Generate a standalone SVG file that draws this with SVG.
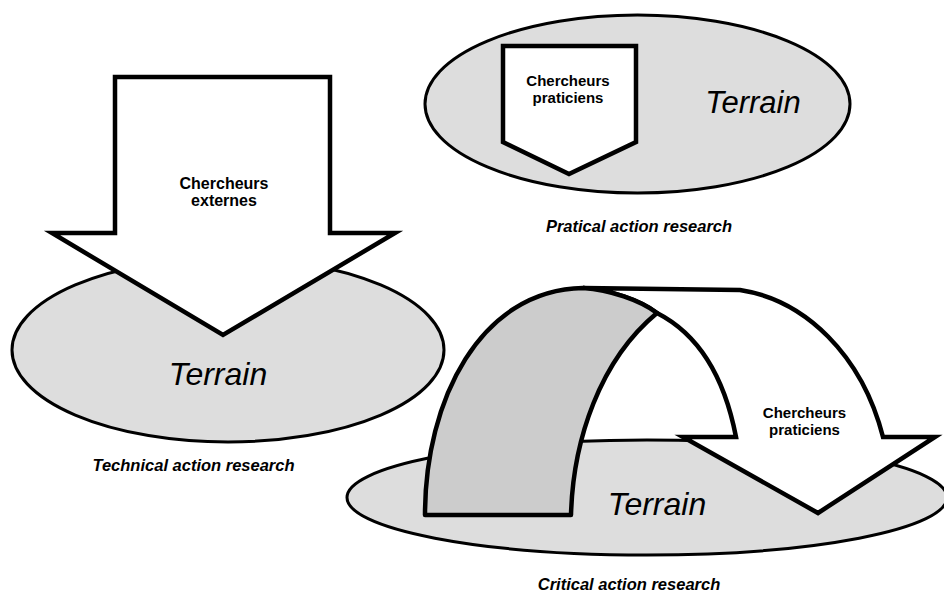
<svg xmlns="http://www.w3.org/2000/svg" width="944" height="592" viewBox="0 0 944 592">
<style>
.ground{fill:#dddddd;stroke:#000;stroke-width:3}
.arrow{fill:#fff;stroke:#000;stroke-width:4.5;stroke-linejoin:miter}
.band{fill:#cccccc;stroke:#000;stroke-width:4.5;stroke-linejoin:round}
.lbl{font-family:"Liberation Sans",Arial,sans-serif;font-weight:bold;font-size:16px;text-anchor:middle;fill:#000}
.lbl2{font-family:"Liberation Sans",Arial,sans-serif;font-weight:bold;font-size:15px;text-anchor:middle;fill:#000}
.terrain{font-family:"Liberation Sans",Arial,sans-serif;font-style:italic;font-size:32px;text-anchor:middle;fill:#000}
.cap{font-family:"Liberation Sans",Arial,sans-serif;font-weight:bold;font-style:italic;font-size:16.5px;text-anchor:middle;fill:#000}
</style>
<rect width="944" height="592" fill="#fff"/>

<g id="technical">
  <ellipse class="ground" cx="228" cy="350" rx="216" ry="92"/>
  <text class="terrain" x="218" y="385">Terrain</text>
  <path class="arrow" d="M115,77 L330,77 L330,233 L395,233 L223,335 L52,233 L115,233 Z"/>
  <text class="lbl" x="224" y="189">Chercheurs</text>
  <text class="lbl" x="224" y="206">externes</text>
  <text class="cap" x="193.5" y="471">Technical action research</text>
</g>

<g id="practical">
  <ellipse class="ground" cx="637.5" cy="104" rx="212.5" ry="89"/>
  <path class="arrow" d="M503,46 L636,46 L636,142 L569,174 L503,142 Z"/>
  <text class="lbl2" x="568" y="86">Chercheurs</text>
  <text class="lbl2" x="568" y="103">praticiens</text>
  <text class="terrain" x="753" y="113" style="font-size:31px">Terrain</text>
  <text class="cap" x="639" y="232">Pratical action research</text>
</g>

<g id="critical">
  <ellipse class="ground" cx="647" cy="497.5" rx="300" ry="57.5"/>
  <text class="terrain" x="657" y="515">Terrain</text>
  <path class="arrow" d="M583,288 L740,290 C805,300 862,355 883,437 L935,437 L818,513 L683,437 L736,437 C725,380 700,335 657,313 C640,300 610,290 583,288 Z"/>
  <path class="band" d="M425,515 L571,515 C573,440 600,360 657,313 C640,300 610,290 583,288 C480,290 425,400 425,515 Z"/>
  <text class="lbl2" x="804.5" y="418">Chercheurs</text>
  <text class="lbl2" x="804.5" y="435">praticiens</text>
  <text class="cap" x="629" y="590">Critical action research</text>
</g>

<g id="connectors"></g>
</svg>
